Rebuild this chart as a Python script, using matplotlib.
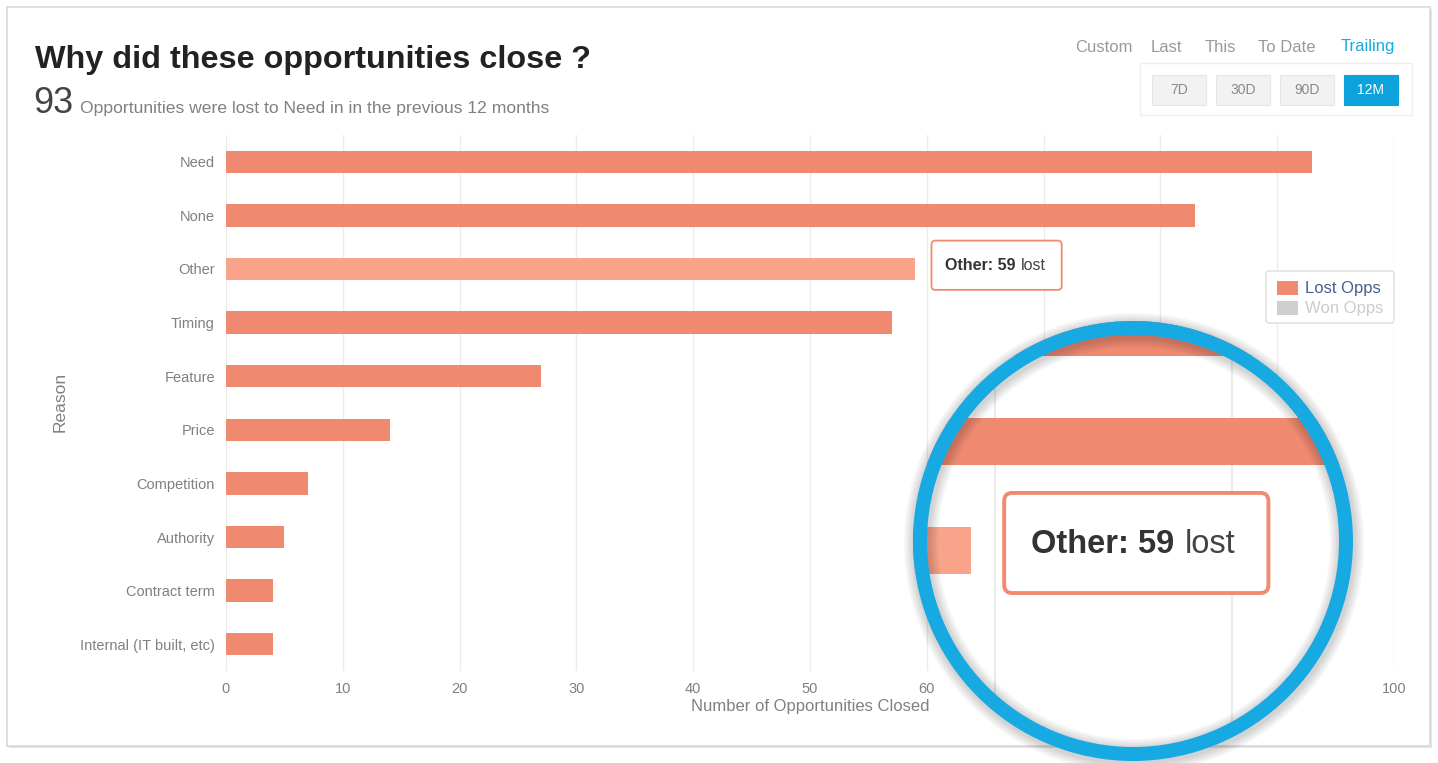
import matplotlib
matplotlib.use("Agg")
import matplotlib.pyplot as plt
from matplotlib.patches import Rectangle, Ellipse, FancyBboxPatch

plt.rcParams['font.family'] = ['Liberation Sans', 'DejaVu Sans']

# data
reasons = ['Need', 'None', 'Other', 'Timing', 'Feature', 'Price',
           'Competition', 'Authority', 'Contract term', 'Internal (IT built, etc)']
lost = [93, 83, 59, 57, 27, 14, 7, 5, 4, 4]
highlight = 'Other'
x_ticks = [0, 10, 20, 30, 40, 50, 60, 70, 80, 90, 100]
periods = ['Custom', 'Last', 'This', 'To Date', 'Trailing']
ranges = ['7D', '30D', '90D', '12M']
legend_labels = ['Lost Opps', 'Won Opps']

W, H = 1438, 763
LOST = '#ef8a71'
LOST_HI = '#f9a38a'
BLUE = '#17a9e1'
GRID = '#ececec'
TICK = '#808080'

fig = plt.figure(figsize=(W / 100, H / 100), dpi=100, facecolor='white')


def box(x0, y0, x1, y1):
    # pixel box -> figure rect
    return [x0 / W, 1 - y1 / H, (x1 - x0) / W, (y1 - y0) / H]


def pixel_axes(z):
    a = fig.add_axes([0, 0, 1, 1], zorder=z)
    a.set_xlim(0, W)
    a.set_ylim(H, 0)
    a.axis('off')
    return a


# background layer
bg = pixel_axes(0)
bg.add_patch(Rectangle((9, 9), 1423, 739, fc='#e4e4e4', ec='none'))
bg.add_patch(Rectangle((7, 7), 1423, 739, fc='white', ec='#d8d8d8', lw=1.2))

bg.text(35, 68, 'Why did these opportunities close ?', fontsize=23.3, fontweight='bold',
        color='#222222', va='baseline')
bg.text(33, 113, str(lost[0]), fontsize=26, color='#444444', va='baseline')
bg.text(80, 113, 'Opportunities were lost to %s in in the previous 12 months' % reasons[0],
        fontsize=12.6, color='#808080', va='baseline')

period_x = [1104, 1166, 1220, 1287, 1368]
for name, px in zip(periods, period_x):
    active = name == 'Trailing'
    bg.text(px, 47, name, fontsize=12, ha='center', va='center',
            color=BLUE if active else '#9a9a9a')

bg.add_patch(Rectangle((1140, 63), 272, 52, fc='white', ec='#eeeeee', lw=1))
for k, name in enumerate(ranges):
    x0 = 1152 + k * 64
    active = name == '12M'
    bg.add_patch(Rectangle((x0, 75), 54, 30, fc='#0ea2dc' if active else '#f2f2f2',
                           ec='#0ea2dc' if active else '#e6e6e6', lw=0.8))
    bg.text(x0 + 27, 90, name, fontsize=10, ha='center', va='center',
            color='white' if active else '#8a8a8a')

bg.text(60, 402, 'Reason', fontsize=12.5, color=TICK, rotation=90, ha='center', va='center')

# main chart
ax = fig.add_axes(box(226, 135, 1394, 671), zorder=1)
ypos = list(range(len(reasons)))
colors = [LOST_HI if r == highlight else LOST for r in reasons]
ax.barh(ypos, lost, height=0.42, color=colors, zorder=2)
ax.set_xlim(0, 100)
ax.set_ylim(len(reasons) - 0.5, -0.5)
ax.set_yticks(ypos)
ax.set_yticklabels(reasons)
ax.set_xticks(x_ticks)
ax.grid(axis='x', color=GRID, lw=1, zorder=0)
ax.tick_params(length=0, labelsize=10.5, labelcolor=TICK)
ax.tick_params(axis='y', pad=8)
ax.tick_params(axis='x', pad=8)
ax.set_xlabel('Number of Opportunities Closed', fontsize=12, color=TICK, labelpad=2)
for s in ax.spines.values():
    s.set_visible(False)
ax.patch.set_alpha(0)

hi = reasons.index(highlight)
hv = lost[hi]


def tooltip(a, px_per_x, px_per_y, fs, lw, rpx):
    x0, x1 = hv + 1.4, hv + 12.55
    y0, y1 = hi - 0.53, hi + 0.39
    a.add_patch(FancyBboxPatch((x0, y0), x1 - x0, y1 - y0,
                               boxstyle='round,pad=0,rounding_size=%f' % (rpx / px_per_x),
                               mutation_aspect=px_per_x / px_per_y,
                               fc='white', ec='#f08a70', lw=lw, zorder=5))
    split = hv + 8.8
    a.text(split - 0.22, hi - 0.06, '%s: %d' % (highlight, hv), fontsize=fs, fontweight='bold',
           color='#333333', ha='right', va='center', zorder=6)
    a.text(split + 0.22, hi - 0.06, 'lost', fontsize=fs, color='#444444',
           ha='left', va='center', zorder=6)


tooltip(ax, 11.68, 53.6, 11.5, 1.3, 4)

# legend
lg = pixel_axes(2)
lg.add_patch(FancyBboxPatch((1266, 271), 128, 52, boxstyle='round,pad=0,rounding_size=3',
                            fc='white', ec='#dddddd', lw=1))
for k, (lab, c, tc) in enumerate(zip(legend_labels, [LOST, '#cfcfcf'], ['#44608a', '#cccccc'])):
    lg.add_patch(Rectangle((1277, 281 + 20 * k), 21, 14, fc=c, ec='none'))
    lg.text(1305, 289 + 20 * k, lab, fontsize=12, color=tc, va='center')

# magnifier: the same chart drawn about 2x larger inside a lens
mx0, my0, mx1, my1 = 913, 321, 1353, 761
axm = fig.add_axes(box(mx0, my0, mx1, my1), zorder=5)
axm.axis('off')
ppx, ppy = 23.7, 108.8
ox, oy = 971.0, 550.6  # where the highlighted bar ends inside the lens
axm.set_xlim(hv + (mx0 - ox) / ppx, hv + (mx1 - ox) / ppx)
axm.set_ylim(hi + (my1 - oy) / ppy, hi + (my0 - oy) / ppy)
lens = Ellipse((0.5, 0.5), 1, 1, transform=axm.transAxes, fc='white', ec='none', zorder=0)
axm.add_patch(lens)
for v in x_ticks:
    axm.axvline(v, color=GRID, lw=1.6, zorder=1)
axm.barh(ypos, lost, height=0.43, color=colors, zorder=2)
tooltip(axm, ppx, ppy, 23.5, 2.8, 8)
for art in axm.get_children():
    if art is not lens and hasattr(art, 'set_clip_path'):
        art.set_clip_path(lens)

# lens ring with soft shadow
top = pixel_axes(10)
cx, cy = (mx0 + mx1) / 2, (my0 + my1) / 2
d = mx1 - mx0 - 14
for k in range(5, 0, -1):
    top.add_patch(Ellipse((cx + 1, cy + 2), d, d, fc='none', ec='black',
                          lw=(14 + 4 * k) * 0.72, alpha=0.035))
top.add_patch(Ellipse((cx, cy), d, d, fc='none', ec=BLUE, lw=14 * 0.72))

fig.savefig('out.png', dpi=100, facecolor='white')
